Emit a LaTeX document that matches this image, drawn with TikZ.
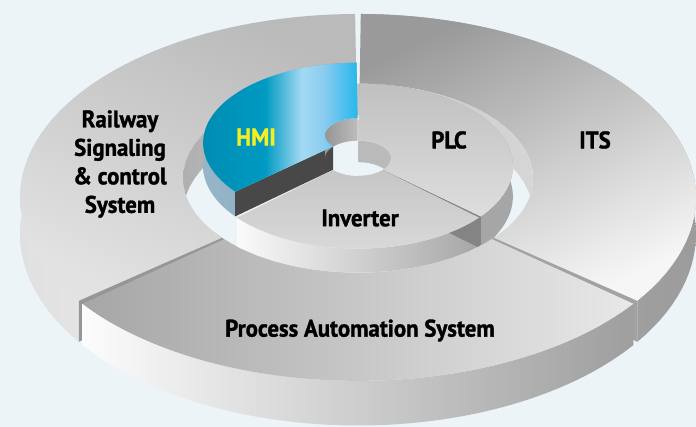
\documentclass[tikz,border=0pt]{standalone}
\usepackage{fontspec}
\newfontfamily\labfont{PT Sans}[FakeStretch=0.95, FakeBold=1.3]
\definecolor{bgc}{RGB}{236,244,248}
\definecolor{rwA}{RGB}{224,224,224}
\definecolor{rwB}{RGB}{246,246,246}
\definecolor{pwA}{RGB}{252,252,252}
\definecolor{pwB}{RGB}{158,158,158}
\definecolor{iwA}{RGB}{172,172,172}
\definecolor{iwB}{RGB}{156,156,156}
\definecolor{endR}{RGB}{150,150,150}
\definecolor{endI}{RGB}{162,162,162}
\definecolor{rtA}{RGB}{186,186,186}
\definecolor{rtB}{RGB}{226,226,226}
\definecolor{ptA}{RGB}{166,166,166}
\definecolor{ptB}{RGB}{232,232,232}
\definecolor{itA}{RGB}{154,154,154}
\definecolor{itB}{RGB}{246,246,246}
\definecolor{crA}{RGB}{176,176,176}
\definecolor{crB}{RGB}{214,214,214}
\definecolor{ivA}{RGB}{250,250,250}
\definecolor{ivB}{RGB}{166,166,166}
\definecolor{plcw}{RGB}{166,166,166}
\definecolor{plcend}{RGB}{132,132,132}
\definecolor{pcA}{RGB}{192,192,192}
\definecolor{pcB}{RGB}{222,222,222}
\definecolor{ivtA}{RGB}{198,198,198}
\definecolor{ivtB}{RGB}{216,216,216}
\definecolor{plcin}{RGB}{186,186,186}
\definecolor{hwA}{RGB}{150,182,200}
\definecolor{hwB}{RGB}{130,166,186}
\definecolor{hdark}{RGB}{72,72,72}
\definecolor{hiA}{RGB}{150,150,150}
\definecolor{hiB}{RGB}{236,236,236}
\definecolor{hiC}{RGB}{188,188,188}
\definecolor{hmiA}{RGB}{0,140,178}
\definecolor{hmiB}{RGB}{0,154,194}
\definecolor{hmiH}{RGB}{164,217,244}
\definecolor{hmiH2}{RGB}{138,204,240}
\definecolor{hmiC}{RGB}{38,183,236}
\definecolor{hmitext}{RGB}{245,238,35}
\pgfdeclarehorizontalshading{hmishade}{100bp}{color(0bp)=(hmiA); color(25bp)=(hmiA); color(45bp)=(hmiB); color(57bp)=(hmiH); color(64bp)=(hmiH2); color(75bp)=(hmiC); color(100bp)=(hmiC)}
% projection of a point of a circle (radius r, centre shifted by v0 in depth), angle t, height h
\newcommand\gX[3]{(358+330*(#1)*cos(#2)/(1+0.216*((#3)+(#1)*sin(#2))))}
\newcommand\gY[4]{(157.8-(174.9*((#4)+(#1)*sin(#2))+(#3))/(1+0.216*((#4)+(#1)*sin(#2))))}
% start an arc / continue with an arc  {r}{t1}{t2}{h}{v0}
\newcommand\garc[5]{plot[domain=#2:#3,samples=60,variable=\t]({\gX{#1}{\t}{#5}},{\gY{#1}{\t}{#4}{#5}})}
\newcommand\gtarc[5]{-- plot[domain=#2:#3,samples=60,variable=\t]({\gX{#1}{\t}{#5}},{\gY{#1}{\t}{#4}{#5}})}
\newcommand\rarc[4]{\garc{#1}{#2}{#3}{#4}{0}}
\newcommand\tarc[4]{\gtarc{#1}{#2}{#3}{#4}{0}}
% start point / continue with a point  {r}{t}{h}
\newcommand\rpt[3]{({\gX{#1}{#2}{0}},{\gY{#1}{#2}{#3}{0}})}
\newcommand\tpt[3]{-- ({\gX{#1}{#2}{0}},{\gY{#1}{#2}{#3}{0}})}
\begin{document}
\begin{tikzpicture}[x=1pt,y=-1pt,
  lab/.style={font={\labfont\bfseries\fontsize{24}{28.5}\selectfont}, text=black, inner sep=0pt, align=center}]
\useasboundingbox (0,0) rectangle (696,427);
\fill[bgc] (0,0) rectangle (696,427);
% outer ring end faces
\fill[endR] \rpt{0.5}{224}{0} \tpt{1}{224}{0} \tpt{1}{224}{-35} \tpt{0.5}{224}{-35} -- cycle;
\fill[endI] \rpt{0.5}{316}{0} \tpt{1}{316}{0} \tpt{1}{316}{-35} \tpt{0.5}{316}{-35} -- cycle;
% outer ring walls
\shade[left color=rwA, right color=rwB] \rarc{1}{90.6}{224}{0} \tarc{1}{224}{90.6}{-35} -- cycle;
\shade[left color=pwA, right color=pwB] \rarc{1}{225}{315}{0} \tarc{1}{315}{225}{-35} -- cycle;
\shade[left color=iwA, right color=iwB] \rarc{1}{316}{449.4}{0} \tarc{1}{449.4}{316}{-35} -- cycle;
% outer ring top faces
\shade[top color=rtA, bottom color=rtB, shading angle=-25] \rarc{1}{90.6}{224}{0} \gtarc{0.521}{224}{90.6}{0}{-0.054} -- cycle;
\shade[left color=ptA, right color=ptB] \rarc{1}{225}{315}{0} \gtarc{0.521}{315}{225}{0}{-0.054} -- cycle;
\shade[top color=itA, bottom color=itB, shading angle=25] \rarc{1}{316}{449.4}{0} \gtarc{0.521}{449.4}{316}{0}{-0.054} -- cycle;
% floor and inner wall of outer ring
\shade[left color=crA, right color=crB] \garc{0.521}{0}{360}{0}{-0.054} -- cycle;
\begin{scope}
\clip \garc{0.521}{0}{360}{0}{-0.054} -- cycle;
\fill[bgc] \garc{0.521}{0}{360}{-35}{-0.054} -- cycle;
% inner ring walls
\shade[left color=ivA, right color=ivB] \rarc{0.467}{223}{317}{0} \tarc{0.467}{317}{223}{-30} -- cycle;
\fill[plcw] \rarc{0.467}{318}{449.4}{0} \tarc{0.467}{449.4}{318}{-30} -- cycle;
\fill[plcend] \rpt{0.1}{318}{0} \tpt{0.467}{318}{0} \tpt{0.467}{318}{-30} \tpt{0.1}{318}{-30} -- cycle;
% inner ring top faces
\shade[top color=pcA, bottom color=pcB] \rarc{0.467}{318}{449.4}{0} \tarc{0.1}{449.4}{318}{0} -- cycle;
\shade[top color=ivtA, bottom color=ivtB] \rarc{0.467}{223}{317}{0} \tarc{0.1}{317}{223}{0} -- cycle;
% hole
\begin{scope}
\clip \rarc{0.1}{0}{360}{0} -- cycle;
\fill[bgc] (0,0) rectangle (696,427);
\fill[plcin] (358,0) rectangle (696,427);
\fill[bgc] \rarc{0.1}{0}{360}{-22} -- cycle;
\end{scope}
\end{scope}
% raised HMI segment
\shade[left color=hwA, right color=hwB] \rarc{0.467}{90.6}{222}{23} \tarc{0.467}{222}{90.6}{0} -- cycle;
\fill[hdark] \rpt{0.1}{222}{23} \tpt{0.467}{222}{23} \tpt{0.467}{222}{0} \tpt{0.1}{222}{0} -- cycle;
\shade[left color=hiA, middle color=hiB, right color=hiC] \rarc{0.1}{90.6}{185}{23} \tarc{0.1}{185}{90.6}{0} -- cycle;
\shade[shading=hmishade] \rarc{0.467}{90.6}{222}{23} \tarc{0.1}{222}{90.6}{23} -- cycle;
% labels
\node[lab] (rail) at (120,164) {Railway\\Signaling\\\& control\\System};
\node[lab, text=hmitext] (hmi) at (256,137) {HMI};
\node[lab] (plc) at (449,140) {PLC};
\node[lab] (its) at (595,140) {ITS};
\node[lab] (inv) at (360,218) {Inverter};
\node[lab] (pas) at (360,330.5) {Process Automation System};
\end{tikzpicture}
\end{document}
